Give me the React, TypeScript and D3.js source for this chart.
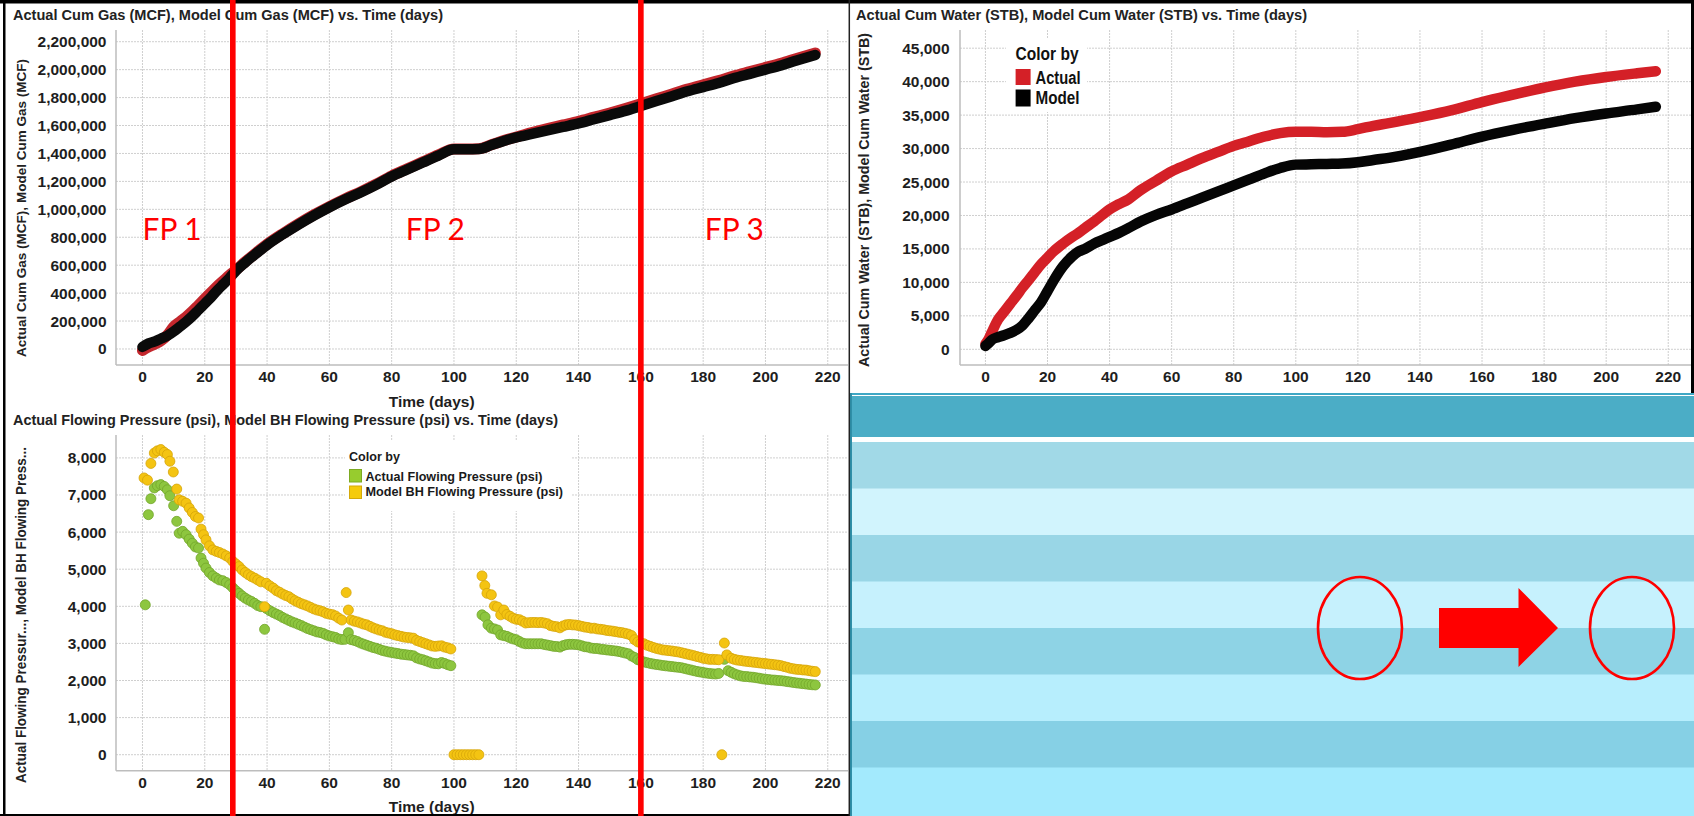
import React from 'react';
import * as d3 from 'd3';

const W = 1694;
const H = 816;
const FONT = "'Liberation Sans', Arial, Helvetica, sans-serif";

// Shared time axis ticks (days)
const dayTicks = [0, 20, 40, 60, 80, 100, 120, 140, 160, 180, 200, 220];

// Cumulative gas (MCF)
const gasTicks = [0, 200000, 400000, 600000, 800000, 1000000, 1200000, 1400000, 1600000, 1800000, 2000000, 2200000];
const gasDays = [0, 2, 4, 6, 8, 10, 12, 14, 16, 18, 20, 22, 24, 26, 28, 30, 33, 36, 40, 45, 50, 55, 60, 65, 70, 75, 80, 85, 90, 95, 100, 104, 108, 112, 116, 120, 125, 130, 135, 140, 145, 150, 155, 160, 165, 170, 175, 180, 185, 190, 195, 200, 205, 210, 216];
const gasActual = [-10000, 15000, 35000, 60000, 100000, 160000, 195000, 230000, 270000, 315000, 360000, 405000, 450000, 490000, 530000, 565000, 625000, 680000, 750000, 825000, 895000, 960000, 1020000, 1075000, 1125000, 1180000, 1240000, 1290000, 1340000, 1390000, 1432000, 1432000, 1434000, 1462000, 1492000, 1518000, 1550000, 1578000, 1604000, 1630000, 1660000, 1690000, 1722000, 1756000, 1791000, 1826000, 1861000, 1892000, 1922000, 1956000, 1986000, 2016000, 2046000, 2080000, 2120000];
const gasModel = [15000, 40000, 55000, 75000, 95000, 125000, 160000, 195000, 235000, 280000, 325000, 370000, 420000, 465000, 510000, 560000, 620000, 675000, 745000, 820000, 890000, 955000, 1015000, 1070000, 1120000, 1175000, 1235000, 1285000, 1335000, 1385000, 1430000, 1430000, 1432000, 1460000, 1490000, 1515000, 1540000, 1565000, 1590000, 1615000, 1645000, 1675000, 1705000, 1740000, 1775000, 1810000, 1845000, 1875000, 1905000, 1940000, 1970000, 2000000, 2030000, 2065000, 2105000];

// Cumulative water (STB)
const waterTicks = [0, 5000, 10000, 15000, 20000, 25000, 30000, 35000, 40000, 45000];
const waterDays = [0, 1, 2, 4, 6, 8, 10, 12, 14, 16, 18, 20, 22, 25, 28, 30, 32, 35, 38, 40, 43, 46, 50, 55, 60, 65, 70, 75, 80, 85, 90, 95, 100, 105, 110, 115, 120, 125, 130, 140, 150, 160, 170, 180, 190, 200, 210, 216];
const waterActual = [800, 1500, 2500, 4400, 5600, 6800, 8000, 9250, 10400, 11600, 12750, 13700, 14650, 15800, 16800, 17400, 18100, 19100, 20200, 20900, 21700, 22400, 23800, 25200, 26600, 27600, 28600, 29500, 30400, 31100, 31800, 32300, 32500, 32500, 32450, 32500, 32900, 33400, 33800, 34700, 35700, 36950, 38050, 39100, 40000, 40700, 41250, 41550];
const waterModel = [500, 900, 1400, 1800, 2100, 2450, 2900, 3600, 4700, 5900, 7100, 8700, 10300, 12400, 13900, 14600, 15000, 15800, 16400, 16800, 17400, 18100, 19100, 20100, 20900, 21800, 22700, 23600, 24500, 25400, 26300, 27100, 27600, 27650, 27700, 27750, 27950, 28300, 28600, 29500, 30600, 31800, 32800, 33700, 34550, 35250, 35850, 36250];

// Flowing pressure (psi), [day, psi]
const pressureTicks = [0, 1000, 2000, 3000, 4000, 5000, 6000, 7000, 8000];
const actualPressure: [number, number][] = [[0.9,4040],[1.9,6470],[2.7,6900],[3.8,7190],[4.8,7250],[5.9,7280],[7,7230],[8,7140],[8.8,6980],[10,6710],[11,6290],[11.8,5970],[12.9,6020],[14,5930],[15,5810],[16,5700],[17,5600],[18,5570],[18.8,5300],[19.6,5160],[20.4,5030],[21.5,4910],[22.6,4820],[23.7,4760],[24.7,4710],[25.8,4690],[26.9,4640],[28,4580],[29,4500],[30,4420],[31,4350],[32,4280],[33,4220],[34,4170],[35,4130],[36,4080],[37,4020],[38,3990],[39.2,3380],[39.8,3940],[40.9,3880],[42,3830],[43,3790],[44,3750],[45,3700],[46,3660],[47,3620],[48,3580],[49,3550],[50,3515],[51,3480],[52,3440],[53,3400],[54,3370],[55,3340],[56,3310],[57,3295],[58,3270],[59,3230],[60,3200],[61,3180],[62,3160],[63,3120],[64,3105],[65,3110],[66.1,3290],[67,3100],[68,3080],[69,3050],[70,3010],[71,2980],[72,2950],[73,2920],[74,2890],[75,2870],[76,2840],[77,2810],[78,2790],[79,2770],[80,2755],[81,2740],[82,2725],[83,2710],[84,2700],[85,2690],[86,2680],[87,2665],[88,2610],[89,2580],[90,2560],[91,2530],[92,2500],[93,2470],[94,2455],[95,2450],[96,2485],[97,2460],[98,2425],[99,2400],[109,3770],[110,3710],[110.9,3500],[112,3410],[113,3390],[114,3360],[115,3230],[116,3210],[117,3190],[118,3150],[119,3120],[120,3100],[121,3050],[122,3010],[123,2990],[124,2990],[125,2990],[126,2990],[127,2990],[128,2990],[129,2970],[130,2955],[131,2940],[132,2920],[133,2915],[134,2900],[135,2940],[136,2965],[137,2975],[138,2975],[139,2970],[140,2960],[141,2935],[142,2910],[143,2900],[144,2875],[145,2865],[146,2860],[147,2845],[148,2835],[149,2825],[150,2815],[151,2805],[152,2795],[153,2780],[154,2760],[155,2740],[156,2720],[157,2660],[158,2620],[159,2560],[160,2530],[161,2500],[162,2480],[163,2460],[164,2445],[165,2430],[166,2420],[167,2405],[168,2395],[169,2385],[170,2375],[171,2365],[172,2355],[173,2345],[174,2325],[175,2305],[176,2285],[177,2265],[178,2245],[179,2230],[180,2215],[181,2200],[182,2190],[183,2180],[184,2175],[185,2190],[186.8,2570],[188,2265],[189,2220],[190,2180],[191,2150],[192,2125],[193,2110],[194,2105],[195,2095],[196,2088],[197,2075],[198,2062],[199,2045],[200,2035],[201,2025],[202,2015],[203,2010],[204,2000],[205,1995],[206,1985],[207,1970],[208,1960],[209,1945],[210,1935],[211,1925],[212,1915],[213,1905],[214,1895],[215,1885],[216,1880]];
const modelPressure: [number, number][] = [[0.5,7460],[1.6,7400],[2.7,7850],[3.8,8130],[4.8,8190],[5.9,8225],[7,8150],[8,8090],[8.8,7910],[9.9,7620],[11,7160],[11.8,6870],[12.9,6830],[14,6780],[15,6650],[16,6530],[17,6420],[18,6380],[18.8,6080],[19.6,5930],[20.4,5790],[21.5,5630],[22.6,5520],[23.7,5480],[24.7,5450],[25.8,5410],[26.9,5360],[28,5300],[29,5210],[30,5140],[31,5070],[32,4980],[33,4910],[34,4850],[35,4800],[36,4760],[37,4710],[38,4660],[39.2,3990],[39.8,4620],[40.9,4550],[42,4490],[43,4420],[44,4380],[45,4330],[46,4290],[47,4260],[48,4200],[49,4150],[50,4110],[51,4070],[52,4040],[53,4010],[54,3970],[55,3930],[56,3900],[57,3880],[58,3850],[59,3810],[60,3790],[61,3775],[62,3740],[63,3680],[64,3630],[65.4,4370],[66.1,3900],[67,3630],[68,3600],[69,3580],[70,3550],[71,3520],[72,3500],[73,3460],[74,3420],[75,3390],[76,3360],[77,3340],[78,3300],[79,3280],[80,3260],[81,3230],[82,3210],[83,3190],[84,3170],[85,3160],[86,3150],[87,3140],[88,3080],[89,3050],[90,3020],[91,2990],[92,2960],[93,2930],[94,2920],[95,2930],[96,2935],[97,2900],[98,2880],[99,2850],[100,0],[101,0],[102,0],[103,0],[104,0],[105,0],[106,0],[107,0],[108,0],[109,4820],[109.9,4560],[110.6,4350],[112,4310],[113,4010],[114,3980],[115,3770],[116,3900],[117,3780],[118,3730],[119,3680],[120,3650],[121,3640],[122,3600],[123,3550],[124,3560],[125,3565],[126,3565],[127,3560],[128,3565],[129,3550],[130,3530],[131,3480],[132,3460],[133,3450],[134,3420],[135,3470],[136,3500],[137,3510],[138,3500],[139,3495],[140,3480],[141,3460],[142,3440],[143,3430],[144,3410],[145,3410],[146,3390],[147,3380],[148,3370],[149,3350],[150,3340],[151,3330],[152,3315],[153,3300],[154,3290],[155,3270],[156,3250],[157,3210],[158,3100],[159,3040],[160,3010],[161,2990],[162,2950],[163,2920],[164,2890],[165,2865],[166,2845],[167,2825],[168,2815],[169,2805],[170,2795],[171,2780],[172,2770],[173,2750],[174,2730],[175,2710],[176,2690],[177,2670],[178,2645],[179,2625],[180,2600],[181,2585],[182,2570],[183,2570],[184,2565],[185,2560],[186,0],[186.8,3010],[187.6,2690],[189,2600],[190,2570],[191,2550],[192,2540],[193,2525],[194,2515],[195,2505],[196,2495],[197,2485],[198,2475],[199,2465],[200,2455],[201,2445],[202,2435],[203,2425],[204,2415],[205,2400],[206,2375],[207,2355],[208,2330],[209,2315],[210,2300],[211,2295],[212,2285],[213,2280],[214,2265],[215,2250],[216,2240]];

// Flow period boundaries (days) and their labels
const flowPeriodBounds = [29, 160];
const flowPeriodNames = ['FP 1', 'FP 2', 'FP 3'];
const flowPeriodLabelDays = [9.5, 94, 190];

// Layered strata sketch colours (top header, then layers)
const headerColor = '#4BADC6';
const layerColors = ['#A1D9E7', '#D1F4FD', '#99D6E6', '#C6F1FD', '#8ED3E5', '#B7EEFD', '#86D0E5', '#A3EAFD'];

const fmt = d3.format(',');

// Scales
const xLeft = d3.scaleLinear().domain([-8.5, 226.5]).range([116, 848]);
const yGas = d3.scaleLinear().domain([-114600, 2284000]).range([365, 30]);
const yPres = d3.scaleLinear().domain([-431, 8617]).range([770.7, 435]);
const xWater = d3.scaleLinear().domain([-8.2, 228.3]).range([960, 1694]);
const yWater = d3.scaleLinear().domain([-2347, 47720]).range([365, 30]);

const GRID = '#cfcfcf';
const AXIS = '#bdbdbd';
const TICK_FILL = '#1e1e1e';

type Lin = d3.ScaleLinear<number, number>;

function Frame({ x, y, xTicks, yTicks, labelRight, xLabelY }: { x: Lin; y: Lin; xTicks: number[]; yTicks: number[]; labelRight: number; xLabelY: number }) {
  const [x0, x1] = x.range();
  const [y0, y1] = y.range();
  return (
    <g>
      {xTicks.map((t) => (
        <line key={'vx' + t} x1={x(t)} x2={x(t)} y1={y1} y2={y0} stroke={GRID} strokeWidth={1} strokeDasharray="2,1" />
      ))}
      {yTicks.map((t) => (
        <line key={'hy' + t} x1={x0} x2={x1} y1={y(t)} y2={y(t)} stroke={GRID} strokeWidth={1} strokeDasharray="2,1" />
      ))}
      <line x1={x0} x2={x0} y1={y1} y2={y0} stroke={AXIS} strokeWidth={1.5} />
      <line x1={x0} x2={x1} y1={y0} y2={y0} stroke={AXIS} strokeWidth={1.5} />
      {yTicks.map((t) => (
        <text key={'ly' + t} x={labelRight} y={y(t) + 5.5} textAnchor="end" fontFamily={FONT} fontWeight={700} fontSize={15.5} fill={TICK_FILL}>
          {fmt(t)}
        </text>
      ))}
      {xTicks.map((t) => (
        <text key={'lx' + t} x={x(t)} y={xLabelY} textAnchor="middle" fontFamily={FONT} fontWeight={700} fontSize={15.5} fill={TICK_FILL}>
          {t}
        </text>
      ))}
    </g>
  );
}

function Title({ x, y, text, len }: { x: number; y: number; text: string; len: number }) {
  return (
    <text x={x} y={y} fontFamily={FONT} fontWeight={700} fontSize={14.5} fill="#222" textLength={len} lengthAdjust="spacingAndGlyphs">
      {text}
    </text>
  );
}

function YLabel({ x, cy, text, len, size }: { x: number; cy: number; text: string; len: number; size: number }) {
  return (
    <text transform={`translate(${x},${cy}) rotate(-90)`} textAnchor="middle" fontFamily={FONT} fontWeight={700} fontSize={size} fill="#222" textLength={len} lengthAdjust="spacingAndGlyphs">
      {text}
    </text>
  );
}

export default function App() {
  const gasLine = (vals: number[]) =>
    d3.line<number>().x((_, i) => xLeft(gasDays[i])).y((v) => yGas(v)).curve(d3.curveMonotoneX)(vals) || '';
  const waterLine = (vals: number[]) =>
    d3.line<number>().x((_, i) => xWater(waterDays[i])).y((v) => yWater(v)).curve(d3.curveMonotoneX)(vals) || '';

  const headerTop = 396;
  const headerBottom = 437;
  const bandTop = 442;
  const bandH = 46.5;

  return (
    <svg width={W} height={H} viewBox={`0 0 ${W} ${H}`} style={{ position: 'absolute', left: 0, top: 0, display: 'block', background: '#fff' }}>
      <rect x={0} y={0} width={W} height={H} fill="#fff" />

      {/* Cumulative gas */}
      <Frame x={xLeft} y={yGas} xTicks={dayTicks} yTicks={gasTicks} labelRight={106.5} xLabelY={382} />
      <path d={gasLine(gasActual)} fill="none" stroke="#C3272D" strokeWidth={11} strokeLinecap="round" strokeLinejoin="round" />
      <path d={gasLine(gasModel)} fill="none" stroke="#0a0a0a" strokeWidth={10.5} strokeLinecap="round" strokeLinejoin="round" />
      <Title x={13} y={20} text="Actual Cum Gas (MCF), Model Cum Gas (MCF) vs. Time (days)" len={430} />
      <YLabel x={26} cy={208} text="Actual Cum Gas (MCF), Model Cum Gas (MCF)" len={298} size={13.5} />
      <text x={431.7} y={406.5} textAnchor="middle" fontFamily={FONT} fontWeight={700} fontSize={15.5} fill={TICK_FILL}>Time (days)</text>

      {/* Flowing pressure */}
      <Frame x={xLeft} y={yPres} xTicks={dayTicks} yTicks={pressureTicks} labelRight={106.5} xLabelY={788} />
      <rect x={345} y={440} width={227} height={71} fill="#fff" />
      {actualPressure.map(([d, p], i) => (
        <circle key={'a' + i} cx={xLeft(d)} cy={yPres(p)} r={5} fill="#8DC63F" stroke="#72A62B" strokeWidth={0.8} />
      ))}
      {modelPressure.map(([d, p], i) => (
        <circle key={'m' + i} cx={xLeft(d)} cy={yPres(p)} r={5} fill="#F4C412" stroke="#D6A40A" strokeWidth={0.8} />
      ))}
      <Title x={13} y={425} text="Actual Flowing Pressure (psi), Model BH Flowing Pressure (psi) vs. Time (days)" len={545} />
      <YLabel x={26} cy={615} text="Actual Flowing Pressur..., Model BH Flowing Press..." len={336} size={14} />
      <text x={431.7} y={812} textAnchor="middle" fontFamily={FONT} fontWeight={700} fontSize={15.5} fill={TICK_FILL}>Time (days)</text>
      <g fontFamily={FONT} fontWeight={700} fill="#1a1a1a">
        <text x={349} y={461} fontSize={12.5} textLength={51} lengthAdjust="spacingAndGlyphs">Color by</text>
        <rect x={349.5} y={469.5} width={12} height={12.5} fill="#97CC2E" stroke="#7DAA22" strokeWidth={1} />
        <text x={365.5} y={480.5} fontSize={12.5} textLength={177} lengthAdjust="spacingAndGlyphs">Actual Flowing Pressure (psi)</text>
        <rect x={349.5} y={486} width={12} height={12.5} fill="#F5CB0C" stroke="#D4A90A" strokeWidth={1} />
        <text x={365.5} y={496} fontSize={12.5} textLength={197.5} lengthAdjust="spacingAndGlyphs">Model BH Flowing Pressure (psi)</text>
      </g>

      {/* Cumulative water */}
      <Frame x={xWater} y={yWater} xTicks={dayTicks} yTicks={waterTicks} labelRight={949.6} xLabelY={382} />
      <rect x={1006} y={38} width={81} height={74} fill="#fff" />
      <path d={waterLine(waterActual)} fill="none" stroke="#D42027" strokeWidth={10.5} strokeLinecap="round" strokeLinejoin="round" />
      <path d={waterLine(waterModel)} fill="none" stroke="#050505" strokeWidth={10.5} strokeLinecap="round" strokeLinejoin="round" />
      <Title x={856} y={20} text="Actual Cum Water (STB), Model Cum Water (STB) vs. Time (days)" len={451} />
      <YLabel x={868.5} cy={200} text="Actual Cum Water (STB), Model Cum Water (STB)" len={334} size={14} />
      <text x={1272} y={406} textAnchor="middle" fontFamily={FONT} fontWeight={700} fontSize={15.5} fill={TICK_FILL}>Time (days)</text>
      <g fontFamily={FONT} fontWeight={700} fill="#111">
        <text x={1015.6} y={59.5} fontSize={18} textLength={63} lengthAdjust="spacingAndGlyphs">Color by</text>
        <rect x={1015.6} y={69} width={15} height={16} fill="#D42027" />
        <text x={1035.5} y={84} fontSize={18} textLength={45} lengthAdjust="spacingAndGlyphs">Actual</text>
        <rect x={1015.6} y={89.5} width={15} height={17} fill="#000" />
        <text x={1035.5} y={104} fontSize={18} textLength={44} lengthAdjust="spacingAndGlyphs">Model</text>
      </g>

      {/* Layered strata sketch */}
      <g>
        <rect x={850} y={393} width={W - 850} height={H - 393} fill="#fff" />
        <rect x={851} y={headerTop} width={W - 851} height={headerBottom - headerTop} fill={headerColor} />
        {layerColors.map((c, i) => (
          <rect key={c + i} x={851} y={bandTop + i * bandH} width={W - 851} height={i === layerColors.length - 1 ? H - (bandTop + i * bandH) : bandH + 0.5} fill={c} />
        ))}
        <line x1={850} x2={W} y1={394} y2={394} stroke="#3FA7C4" strokeWidth={2} />
        <line x1={851} x2={851} y1={393} y2={H} stroke="#2F8FA8" strokeWidth={2} />
        <ellipse cx={1360} cy={628} rx={42} ry={51} fill="none" stroke="#FF0000" strokeWidth={2.6} />
        <ellipse cx={1632} cy={628} rx={42} ry={51} fill="none" stroke="#FF0000" strokeWidth={2.6} />
        <polygon points="1439,608 1518.5,608 1518.5,588 1558,628 1518.5,667 1518.5,648 1439,648" fill="#FF0000" />
      </g>

      {/* Panel frame */}
      <rect x={0} y={0} width={W} height={3.5} fill="#000" />
      <rect x={3} y={0} width={2.5} height={H} fill="#000" />
      <rect x={0} y={814} width={850} height={2} fill="#000" />
      <rect x={1691} y={0} width={3} height={393} fill="#000" />
      <line x1={849.3} x2={849.3} y1={0} y2={H} stroke="#222" strokeWidth={1.5} />

      {/* Flow period boundaries and labels */}
      {flowPeriodBounds.map((d) => (
        <rect key={'fp' + d} x={xLeft(d) - 2.8} y={0} width={5.6} height={H} fill="#FF0000" />
      ))}
      {flowPeriodNames.map((n, i) => (
        <text key={n} x={xLeft(flowPeriodLabelDays[i])} y={240} textAnchor="middle" fontFamily="Lato, 'Open Sans', sans-serif" fontSize={31} fill="#FF0000" textLength={59} lengthAdjust="spacingAndGlyphs">
          {n}
        </text>
      ))}
    </svg>
  );
}
